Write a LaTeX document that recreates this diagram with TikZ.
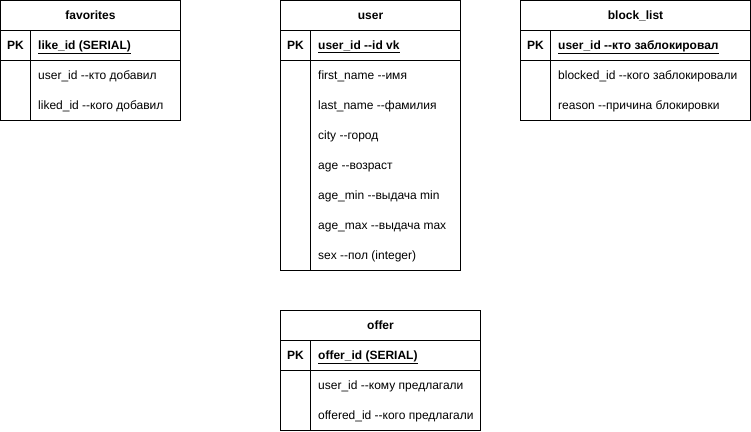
\documentclass[tikz,border=0pt]{standalone}
\usepackage{fontspec}
\setmainfont{Liberation Sans}
\usepackage{tikz}
\newcommand{\tabfont}{\fontsize{12}{14}\selectfont}
\tikzset{
	cell/.style={draw,line width=1pt,inner sep=0pt,outer sep=0pt,anchor=north west,minimum height=30pt,text height=8.6pt,text depth=0pt},
	head/.style={cell,font=\tabfont\bfseries},
	field/.style={anchor=west,inner sep=0pt,xshift=7.5pt,text height=8.6pt,text depth=0pt}
}
\newcommand{\dd}{-{}-}

\begin{document}
\begin{tikzpicture}[x=1pt,y=-1pt,font=\tabfont]
						\useasboundingbox (0,0) rectangle (751,431);
						% favorites
						\node [head,minimum width=180pt] (fav) at (0.5,0.5) {favorites};
						\node [cell,minimum width=30pt] (favpk) at (fav.south west) {\bfseries PK};
						\node [cell,minimum width=150pt] (favkey) at (favpk.north east) {};
						\node [field] (favid) at (favkey.west) {\bfseries\underline{like\_id (SERIAL)}};
						\node [cell,minimum width=30pt,minimum height=60pt] (favside) at (favpk.south west) {};
						\node [cell,minimum width=150pt,minimum height=60pt] (favbody) at (favside.north east) {};
						\node [field] (fava) at ([yshift=-15pt]favbody.north west) {user\_id \dd кто добавил};
						\node [field] (favb) at ([yshift=-45pt]favbody.north west) {liked\_id \dd кого добавил};
						
						% user
						\node [head,minimum width=180pt] (usr) at (280.5,0.5) {user};
						\node [cell,minimum width=30pt] (usrpk) at (usr.south west) {\bfseries PK};
						\node [cell,minimum width=150pt] (usrkey) at (usrpk.north east) {};
						\node [field] (usrid) at (usrkey.west) {\bfseries\underline{user\_id \dd id vk}};
						\node [cell,minimum width=30pt,minimum height=210pt] (usrside) at (usrpk.south west) {};
						\node [cell,minimum width=150pt,minimum height=210pt] (usrbody) at (usrside.north east) {};
						\node [field] (usra) at ([yshift=-15pt]usrbody.north west) {first\_name \dd имя};
						\node [field] (usrb) at ([yshift=-45pt]usrbody.north west) {last\_name \dd фамилия};
						\node [field] (usrc) at ([yshift=-75pt]usrbody.north west) {city \dd город};
						\node [field] (usrd) at ([yshift=-105pt]usrbody.north west) {age \dd возраст};
						\node [field] (usre) at ([yshift=-135pt]usrbody.north west) {age\_min \dd выдача min};
						\node [field] (usrf) at ([yshift=-165pt]usrbody.north west) {age\_max \dd выдача max};
						\node [field] (usrg) at ([yshift=-195pt]usrbody.north west) {sex \dd пол (integer)};
						
						% block_list
						\node [head,minimum width=230pt] (blk) at (520.5,0.5) {block\_list};
						\node [cell,minimum width=30pt] (blkpk) at (blk.south west) {\bfseries PK};
						\node [cell,minimum width=200pt] (blkkey) at (blkpk.north east) {};
						\node [field] (blkid) at (blkkey.west) {\bfseries\underline{user\_id \dd кто заблокировал}};
						\node [cell,minimum width=30pt,minimum height=60pt] (blkside) at (blkpk.south west) {};
						\node [cell,minimum width=200pt,minimum height=60pt] (blkbody) at (blkside.north east) {};
						\node [field] (blka) at ([yshift=-15pt]blkbody.north west) {blocked\_id \dd кого заблокировали};
						\node [field] (blkb) at ([yshift=-45pt]blkbody.north west) {reason \dd причина блокировки};
						
						% offer
						\node [head,minimum width=200pt] (ofr) at (280.5,310.5) {offer};
						\node [cell,minimum width=30pt] (ofrpk) at (ofr.south west) {\bfseries PK};
						\node [cell,minimum width=170pt] (ofrkey) at (ofrpk.north east) {};
						\node [field] (ofrid) at (ofrkey.west) {\bfseries\underline{offer\_id (SERIAL)}};
						\node [cell,minimum width=30pt,minimum height=60pt] (ofrside) at (ofrpk.south west) {};
						\node [cell,minimum width=170pt,minimum height=60pt] (ofrbody) at (ofrside.north east) {};
						\node [field] (ofra) at ([yshift=-15pt]ofrbody.north west) {user\_id \dd кому предлагали};
						\node [field] (ofrb) at ([yshift=-45pt]ofrbody.north west) {offered\_id \dd кого предлагали};
					\end{tikzpicture}
\end{document}
